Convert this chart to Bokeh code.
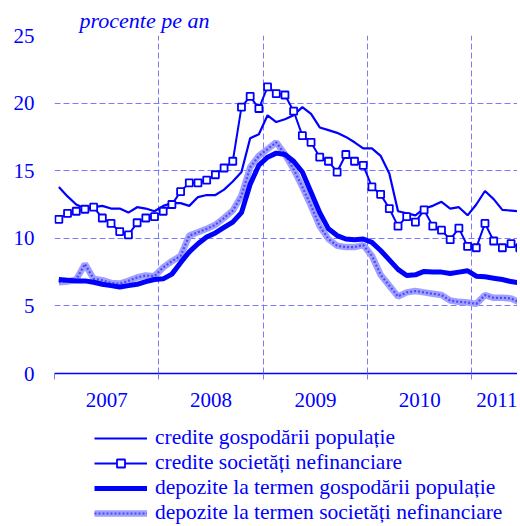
from bokeh.plotting import figure
from bokeh.layouts import column
from bokeh.models import (Range1d, FixedTicker, Legend, LegendItem)
from bokeh.embed import file_html
from bokeh.resources import INLINE

# monthly data, Jan 2007 .. Jun 2011 (month index 0..53)
credite_gosp = [13.8, 13.1, 12.5, 12.2, 12.3, 12.4, 12.2, 12.2, 11.9, 12.3, 12.2, 12.0,
                12.4, 12.6, 12.6, 12.4, 13.05, 13.2, 13.2, 13.6, 14.2, 14.9, 17.4, 17.7,
                19.1, 18.6, 18.8, 19.1, 19.7, 19.2, 18.2, 18.0, 17.8, 17.5, 17.1, 16.65,
                16.65, 16.1, 14.8, 12.0, 11.85, 11.7, 12.2, 12.4, 12.7, 12.2, 12.3, 11.7,
                12.5, 13.5, 12.9, 12.1, 12.05, 12.0]
credite_soc = [11.4, 11.85, 12.0, 12.15, 12.3, 11.5, 11.1, 10.5, 10.25, 11.15, 11.5, 11.6,
               12.0, 12.5, 13.45, 14.1, 14.1, 14.3, 14.7, 15.2, 15.7, 19.7, 20.5, 19.6,
               21.2, 20.7, 20.6, 19.4, 17.6, 17.1, 16.0, 15.7, 14.9, 16.2, 15.7, 15.4,
               13.8, 13.25, 12.2, 10.9, 11.6, 11.2, 12.1, 10.9, 10.6, 9.9, 10.75, 9.4,
               9.3, 11.1, 9.8, 9.3, 9.6, 9.3]
depozite_gosp = [6.95, 6.9, 6.85, 6.85, 6.75, 6.6, 6.5, 6.4, 6.5, 6.6, 6.8, 6.95,
                 7.0, 7.35, 8.2, 9.0, 9.6, 10.1, 10.4, 10.8, 11.2, 11.9, 14.0, 15.4,
                 16.0, 16.3, 16.2, 15.7, 14.9, 13.4, 11.9, 10.7, 10.2, 9.95, 9.9, 9.95,
                 9.7, 9.1, 8.4, 7.7, 7.25, 7.3, 7.55, 7.5, 7.5, 7.4, 7.5, 7.6,
                 7.2, 7.15, 7.05, 6.95, 6.8, 6.7]
depozite_soc = [6.75, 6.8, 6.95, 8.1, 7.0, 6.9, 6.7, 6.65, 6.85, 7.1, 7.25, 7.2,
                7.85, 8.3, 8.7, 10.2, 10.45, 10.7, 11.0, 11.5, 12.05, 13.15, 15.25, 16.1,
                16.6, 17.1, 16.2, 15.1, 13.8, 12.4, 10.9, 9.95, 9.45, 9.35, 9.35, 9.5,
                8.7, 7.3, 6.5, 5.7, 6.0, 6.1, 6.0, 5.9, 5.8, 5.4, 5.3, 5.25,
                5.15, 5.8, 5.6, 5.6, 5.55, 5.25]

year_labels = ["2007", "2008", "2009", "2010", "2011"]
year_label_pos = [6, 18, 30, 42, 51]
year_bounds = [0, 12, 24, 36, 48]
y_ticks = [0, 5, 10, 15, 20, 25]

series_names = ["credite gospodării populație", "credite societăți nefinanciare",
                "depozite la termen gospodării populație",
                "depozite la termen societăți nefinanciare"]
unit_text = "procente pe an"

x = [i + 0.5 for i in range(len(credite_gosp))]

BLUE = "#0000ff"
GRID = "#7a7aff"
LIGHT = "#a0a0ff"
DOTS = "#4a4aff"
FONT = "Liberation Serif"


def draw_series(fig):
    r1 = fig.line(x, credite_gosp, line_color=BLUE, line_width=2.2)
    r2l = fig.line(x, credite_soc, line_color=BLUE, line_width=2)
    r2m = fig.scatter(x, credite_soc, marker="square", size=7, line_color=BLUE,
                      line_width=1.8, fill_color="white")
    r4a = fig.line(x, depozite_soc, line_color=LIGHT, line_width=6.5)
    r4b = fig.line(x, depozite_soc, line_color=DOTS, line_width=2.2, line_dash="2 2")
    r3 = fig.line(x, depozite_gosp, line_color=BLUE, line_width=5)
    return [[r1], [r2l, r2m], [r3], [r4a, r4b]]


# ---- main chart ----
p = figure(width=517, height=421, output_backend="svg", toolbar_location=None,
           x_range=Range1d(0, 53.24), y_range=Range1d(0, 25),
           min_border_left=54, min_border_right=0, min_border_top=35,
           min_border_bottom=48, title=unit_text)
p.outline_line_color = None
p.background_fill_color = "white"

p.title.text_font = FONT
p.title.text_font_style = "italic"
p.title.text_font_size = "22px"
p.title.text_color = BLUE
p.title.align = "left"
p.title.offset = 25
p.title.standoff = 6

p.xaxis.ticker = FixedTicker(ticks=year_label_pos, minor_ticks=year_bounds)
p.xaxis.major_label_overrides = {t: l for t, l in zip(year_label_pos, year_labels)}
p.xaxis.major_tick_line_color = None
p.xaxis.minor_tick_line_color = GRID
p.xaxis.minor_tick_out = 6
p.xaxis.minor_tick_in = 0
p.xaxis.axis_line_color = BLUE
p.xaxis.axis_line_width = 1.5
p.xaxis.major_label_text_font = FONT
p.xaxis.major_label_text_font_size = "21px"
p.xaxis.major_label_text_color = BLUE
p.xaxis.major_label_standoff = 13

p.yaxis.ticker = FixedTicker(ticks=y_ticks)
p.yaxis.axis_line_color = None
p.yaxis.major_tick_line_color = None
p.yaxis.minor_tick_line_color = None
p.yaxis.major_label_text_font = FONT
p.yaxis.major_label_text_font_size = "21px"
p.yaxis.major_label_text_color = BLUE
p.yaxis.major_label_standoff = 14

p.xgrid.ticker = FixedTicker(ticks=year_bounds)
p.xgrid.grid_line_color = GRID
p.xgrid.grid_line_dash = "6 3"
p.ygrid.ticker = FixedTicker(ticks=y_ticks[1:])
p.ygrid.grid_line_color = GRID
p.ygrid.grid_line_dash = "6 3"

draw_series(p)

# ---- legend panel (series drawn out of view, only legend shown) ----
lg = figure(width=517, height=104, output_backend="svg", toolbar_location=None,
            x_range=Range1d(0, 53.24), y_range=Range1d(100, 101),
            x_axis_location=None, y_axis_location=None,
            min_border=0)
lg.outline_line_color = None
lg.grid.visible = False
groups = draw_series(lg)

legend = Legend(items=[LegendItem(label=n, renderers=g) for n, g in zip(series_names, groups)],
                location=(40, 0))
legend.border_line_color = None
legend.background_fill_alpha = 0
legend.padding = 0
legend.margin = 0
legend.spacing = 0
legend.glyph_width = 53
legend.glyph_height = 20
legend.label_height = 20
legend.label_standoff = 8
legend.label_text_font = FONT
legend.label_text_font_size = "21.5px"
legend.label_text_color = BLUE
lg.add_layout(legend, "center")

layout = column(p, lg, spacing=0)
open("out.html", "w").write(file_html(layout, INLINE))
